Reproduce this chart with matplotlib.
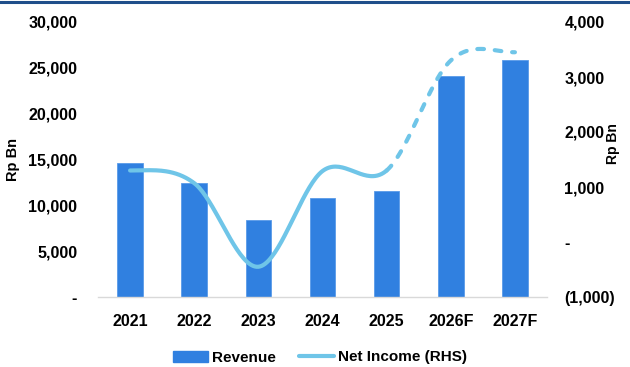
import numpy as np
import matplotlib
matplotlib.use("Agg")
import matplotlib.pyplot as plt
from matplotlib.lines import Line2D
from matplotlib.patches import Patch

years = ["2021", "2022", "2023", "2024", "2025", "2026F", "2027F"]
revenue = [14600, 12450, 8400, 10750, 11550, 24100, 25850]
net_income = [1300, 1070, -450, 1290, 1300, 3300, 3450]
left_ticks = [0, 5000, 10000, 15000, 20000, 25000, 30000]
left_labels = ["-", "5,000", "10,000", "15,000", "20,000", "25,000", "30,000"]
right_ticks = [-1000, 0, 1000, 2000, 3000, 4000]
right_labels = ["(1,000)", "-", "1,000", "2,000", "3,000", "4,000"]

BAR = "#3080e0"
LINE = "#6fc5e8"
FS = 11.5
plt.rcParams["font.family"] = ["Liberation Sans", "DejaVu Sans"]
plt.rcParams["font.weight"] = "bold"

fig = plt.figure(figsize=(6.3, 3.67), dpi=100)
ax = fig.add_axes([98/630, 1-297/367, (547-98)/630, (297-22)/367])
ax2 = ax.twinx()

x = np.arange(len(years))
ax.bar(x, revenue, width=0.4, color=BAR, edgecolor="#5a9ae8", linewidth=0.6, zorder=2)
ax.set_xlim(-0.5, len(years) - 0.5)
ax.set_ylim(0, 30000)
ax.set_yticks(left_ticks)
ax.set_yticklabels(left_labels)
ax.set_xticks(x)
ax.set_xticklabels(years)
ax.tick_params(axis="both", length=0, labelsize=FS)
ax.tick_params(axis="y", pad=15)
ax.tick_params(axis="x", pad=12)
for s in ["top", "right", "left"]:
    ax.spines[s].set_visible(False)
    ax2.spines[s].set_visible(False)
ax.spines["bottom"].set_color("#d9d9d9")
ax.spines["bottom"].set_linewidth(1.0)
ax2.spines["bottom"].set_visible(False)
for lab in ax.get_xticklabels() + ax.get_yticklabels():
    lab.set_fontweight("bold")

# smooth curve (cubic Hermite / Catmull-Rom through the data points)
y = np.array(net_income, dtype=float)
n = len(y)
m = np.zeros(n)
m[1:-1] = (y[2:] - y[:-2]) / 2.0
xs_all, ys_all = [], []
for i in range(n - 1):
    t = np.linspace(0, 1, 40)
    h00 = 2*t**3 - 3*t**2 + 1
    h10 = t**3 - 2*t**2 + t
    h01 = -2*t**3 + 3*t**2
    h11 = t**3 - t**2
    xs_all.append(x[i] + t)
    ys_all.append(h00*y[i] + h10*m[i] + h01*y[i+1] + h11*m[i+1])
xs = np.concatenate(xs_all)
ys = np.concatenate(ys_all)
solid = xs <= 4
dashed = xs >= 4
ax2.plot(xs[solid], ys[solid], color=LINE, lw=3.0, solid_capstyle="round", zorder=3)
ax2.plot(xs[dashed], ys[dashed], color=LINE, lw=3.0, dashes=(1.6, 2.6),
         dash_capstyle="round", zorder=3)
ax2.set_ylim(-1000, 4000)
ax2.set_yticks(right_ticks)
ax2.set_yticklabels(right_labels)
ax2.tick_params(axis="y", length=0, pad=12.5, labelsize=FS)
for lab in ax2.get_yticklabels():
    lab.set_fontweight("bold")

fig.text(12.5/630, 1-159/367, "Rp Bn", rotation=90, ha="center", va="center",
         fontsize=10.5, fontweight="bold")
fig.text(613/630, 1-144/367, "Rp Bn", rotation=90, ha="center", va="center",
         fontsize=10, fontweight="bold")

# top navy border
fig.add_artist(Line2D([0, 1], [1-2/367, 1-2/367], transform=fig.transFigure,
                      color="#1f4e8a", lw=2.2))

handles = [Patch(facecolor=BAR, edgecolor=BAR),
           Line2D([0], [0], color=LINE, lw=3.0, solid_capstyle="round")]
fig.legend(handles, ["Revenue", "Net Income (RHS)"], loc="center",
           bbox_to_anchor=(0.508, 1-357.5/367), ncol=2, frameon=False,
           prop={"size": 11, "weight": "bold"}, handlelength=2.3,
           handleheight=0.7, columnspacing=1.5, handletextpad=0.25,
           borderpad=0, borderaxespad=0)

fig.savefig("out.png", dpi=100)
